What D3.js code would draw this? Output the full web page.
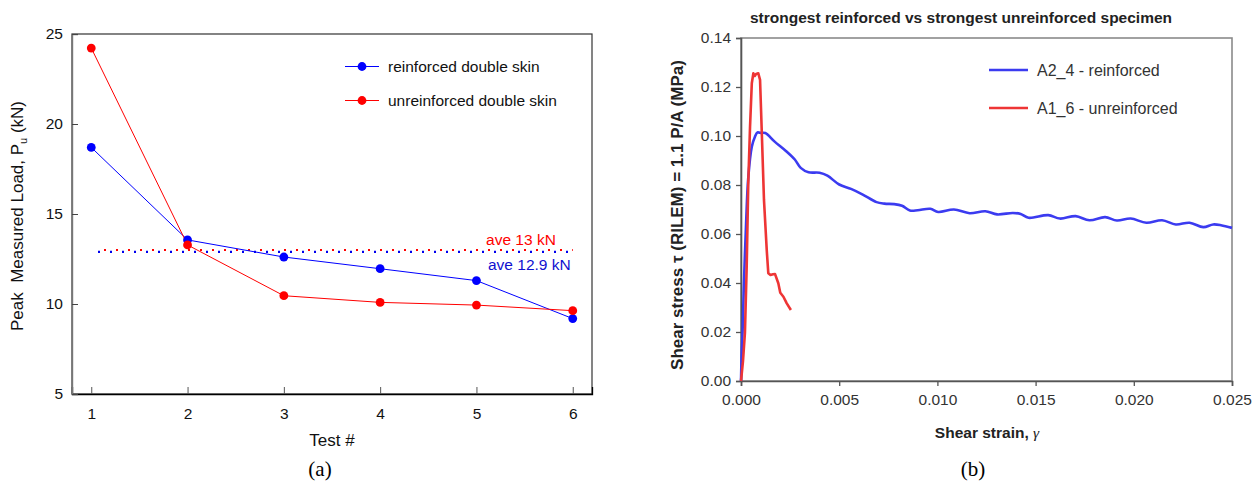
<!DOCTYPE html>
<html>
<head>
<meta charset="utf-8">
<script src="https://cdn.jsdelivr.net/npm/d3@7"></script>
<style>
  html, body { margin: 0; padding: 0; background: #fff; }
  svg { display: block; font-family: "Liberation Sans", Arial, sans-serif; }
</style>
</head>
<body>
<svg id="chart" width="1258" height="482"></svg>
<script>
// ---------- Panel (a) data ----------
const tests = [1, 2, 3, 4, 5, 6];
const reinforcedPeak = [18.7, 13.56, 12.61, 11.96, 11.3, 9.19];
const unreinforcedPeak = [24.22, 13.28, 10.46, 10.09, 9.94, 9.63];
const aveReinforced = 12.9;
const aveUnreinforced = 13.0;
const aveSpan = [1.07, 6.0];
const panelAXTicks = [1, 2, 3, 4, 5, 6];
const panelAYTicks = [5, 10, 15, 20, 25];
const panelASeriesNames = ["reinforced double skin", "unreinforced double skin"];
const aveLabels = ["ave 13 kN", "ave 12.9 kN"];

// ---------- Panel (b) data ----------
const curveA2_4 = [
  [0, 0], [0.00003, 0.01], [0.00008, 0.02], [0.00015, 0.04], [0.00026, 0.0645],
  [0.00037, 0.083], [0.00055, 0.0956], [0.00071, 0.0997], [0.00084, 0.1015],
  [0.00097, 0.1013], [0.00124, 0.1012], [0.0017, 0.0978], [0.0023, 0.0938],
  [0.00274, 0.0904], [0.00304, 0.087], [0.00344, 0.0852], [0.004, 0.085],
  [0.0044, 0.0838], [0.005, 0.0802], [0.0056, 0.0784], [0.0062, 0.0761],
  [0.0069, 0.073], [0.0073, 0.0724], [0.0078, 0.0722], [0.0082, 0.0715],
  [0.0086, 0.0696], [0.009, 0.0697], [0.00964, 0.0703], [0.01004, 0.069],
  [0.01084, 0.07], [0.01164, 0.0685], [0.01244, 0.0693], [0.01304, 0.068],
  [0.01384, 0.0686], [0.01424, 0.0682], [0.01464, 0.0666], [0.01564, 0.0677],
  [0.01624, 0.0663], [0.01704, 0.0673], [0.01774, 0.0656], [0.01854, 0.0669],
  [0.01914, 0.0655], [0.01984, 0.0663], [0.02064, 0.0646], [0.02144, 0.0656],
  [0.02214, 0.0639], [0.02284, 0.0646], [0.02354, 0.0628], [0.02404, 0.0639],
  [0.02444, 0.0636], [0.025, 0.0625]
];
const curveA1_6 = [
  [0, 0], [0.0001, 0.008], [0.0002, 0.0196], [0.00029, 0.0467], [0.00037, 0.0807],
  [0.00046, 0.1038], [0.00055, 0.1215], [0.00063, 0.1256], [0.0007, 0.1245],
  [0.00077, 0.1253], [0.00088, 0.1256], [0.00097, 0.1229], [0.00106, 0.1011],
  [0.00117, 0.0739], [0.00131, 0.0535], [0.00139, 0.044], [0.0015, 0.0433],
  [0.00163, 0.0436], [0.00173, 0.0437], [0.0019, 0.0399], [0.002, 0.036],
  [0.00216, 0.0344], [0.00233, 0.0317], [0.00254, 0.029]
];
const panelBXTicks = [0, 0.005, 0.010, 0.015, 0.020, 0.025];
const panelBYTicks = [0, 0.02, 0.04, 0.06, 0.08, 0.10, 0.12, 0.14];
const panelBSeriesNames = ["A2_4 - reinforced", "A1_6 - unreinforced"];
const panelBTitle = "strongest reinforced vs strongest unreinforced specimen";

const svg = d3.select("#chart");

// =============== Panel (a) ===============
const ax = d3.scaleLinear().domain([0.8, 6.2]).range([72, 592]);
const ay = d3.scaleLinear().domain([5, 25]).range([394, 34]);
const gA = svg.append("g");

gA.append("rect").attr("x", ax.range()[0]).attr("y", ay.range()[1])
  .attr("width", ax.range()[1] - ax.range()[0]).attr("height", ay.range()[0] - ay.range()[1])
  .attr("fill", "none").attr("stroke", "#333").attr("stroke-width", 1.2);

const axB = gA.append("g").attr("transform", `translate(0,${ay(5)})`)
  .call(d3.axisBottom(ax).tickValues(panelAXTicks).tickSize(-7).tickPadding(14).tickFormat(d3.format("d")));
axB.select(".domain").attr("stroke", "#000").attr("stroke-width", 1.3);
axB.selectAll(".tick line").attr("stroke", "#555");
axB.selectAll("text").attr("font-size", 15.5).attr("fill", "#111").attr("font-family", "Liberation Sans, Arial, sans-serif");

const axL = gA.append("g").attr("transform", `translate(${ax(0.8)},0)`)
  .call(d3.axisLeft(ay).tickValues(panelAYTicks).tickSize(-6).tickPadding(9).tickFormat(d3.format("d")));
axL.select(".domain").attr("stroke", "#777").attr("stroke-width", 1.4);
axL.selectAll(".tick line").attr("stroke", "#444");
axL.selectAll("text").attr("font-size", 15.5).attr("fill", "#111").attr("font-family", "Liberation Sans, Arial, sans-serif");

gA.append("line").attr("x1", ax(aveSpan[0])).attr("x2", ax(aveSpan[1]))
  .attr("y1", ay(aveReinforced)).attr("y2", ay(aveReinforced))
  .attr("stroke", "#0000ee").attr("stroke-width", 2.2).attr("stroke-dasharray", "2,10");
gA.append("line").attr("x1", ax(aveSpan[0])).attr("x2", ax(aveSpan[1]))
  .attr("y1", ay(aveUnreinforced)).attr("y2", ay(aveUnreinforced))
  .attr("stroke", "#ff0000").attr("stroke-width", 2.2).attr("stroke-dasharray", "2,10")
  .attr("stroke-dashoffset", -6);

gA.append("text").attr("x", ax(5.1)).attr("y", ay(aveUnreinforced) - 5)
  .attr("font-size", 15.5).attr("fill", "#ff0000").text(aveLabels[0]);
gA.append("text").attr("x", ax(5.12)).attr("y", ay(aveReinforced) + 18)
  .attr("font-size", 15.5).attr("fill", "#1010d0").text(aveLabels[1]);

const lineA = d3.line().x((d, i) => ax(tests[i])).y(d => ay(d));
const seriesA = [
  { name: panelASeriesNames[0], vals: reinforcedPeak, color: "#0000ff" },
  { name: panelASeriesNames[1], vals: unreinforcedPeak, color: "#ff0000" }
];
seriesA.forEach(s => {
  gA.append("path").attr("d", lineA(s.vals)).attr("fill", "none")
    .attr("stroke", s.color).attr("stroke-width", 1);
});
seriesA.forEach(s => {
  gA.selectAll(null).data(s.vals).enter().append("circle")
    .attr("cx", (d, i) => ax(tests[i])).attr("cy", d => ay(d)).attr("r", 4.4)
    .attr("fill", s.color);
});

seriesA.forEach((s, i) => {
  const ly = 66.5 + i * 34;
  gA.append("line").attr("x1", 345).attr("x2", 379).attr("y1", ly).attr("y2", ly)
    .attr("stroke", s.color).attr("stroke-width", 1);
  gA.append("circle").attr("cx", 362).attr("cy", ly).attr("r", 4.4).attr("fill", s.color);
  gA.append("text").attr("x", 388).attr("y", ly + 5.5).attr("font-size", 15.5)
    .attr("fill", "#111").text(s.name);
});

const yTitleA = gA.append("text").attr("transform", "translate(23,216) rotate(-90)")
  .attr("text-anchor", "middle").attr("font-size", 17).attr("fill", "#111");
yTitleA.append("tspan").text("Peak\u00a0 Measured Load, P");
yTitleA.append("tspan").attr("font-size", 11).attr("dy", 4).text("u");
yTitleA.append("tspan").attr("dy", -4).text(" (kN)");

gA.append("text").attr("x", 332).attr("y", 446).attr("text-anchor", "middle")
  .attr("font-size", 17).attr("fill", "#111").text("Test #");
gA.append("text").attr("x", 320).attr("y", 476).attr("text-anchor", "middle")
  .attr("font-size", 21).attr("font-family", "Liberation Serif, Times New Roman, serif")
  .attr("fill", "#000").text("(a)");

// =============== Panel (b) ===============
const bx = d3.scaleLinear().domain([0, 0.025]).range([741, 1232]);
const by = d3.scaleLinear().domain([0, 0.14]).range([381, 38]);
const gB = svg.append("g");

gB.append("rect").attr("x", bx.range()[0]).attr("y", by.range()[1])
  .attr("width", bx.range()[1] - bx.range()[0]).attr("height", by.range()[0] - by.range()[1])
  .attr("fill", "none").attr("stroke", "#8a8a8a").attr("stroke-width", 1.6);

const bxAxis = gB.append("g").attr("transform", `translate(0,${by(0)})`)
  .call(d3.axisBottom(bx).tickValues(panelBXTicks).tickSize(5).tickPadding(8).tickFormat(d3.format(".3f")));
bxAxis.select(".domain").attr("stroke", "#555").attr("stroke-width", 1.6);
bxAxis.selectAll(".tick line").attr("stroke", "#555").attr("stroke-width", 1.3);
bxAxis.selectAll("text").attr("font-size", 15.5).attr("fill", "#333").attr("font-family", "Liberation Sans, Arial, sans-serif");

const byAxis = gB.append("g").attr("transform", `translate(${bx(0)},0)`)
  .call(d3.axisLeft(by).tickValues(panelBYTicks).tickSize(5).tickPadding(5).tickFormat(d3.format(".2f")));
byAxis.select(".domain").attr("stroke", "#555").attr("stroke-width", 1.6);
byAxis.selectAll(".tick line").attr("stroke", "#555").attr("stroke-width", 1.3);
byAxis.selectAll("text").attr("font-size", 15.5).attr("fill", "#333").attr("font-family", "Liberation Sans, Arial, sans-serif");

const lineB = d3.line().x(d => bx(d[0])).y(d => by(d[1]));
gB.append("path").attr("d", lineB.curve(d3.curveCatmullRom)(curveA2_4)).attr("fill", "none")
  .attr("stroke", "#3b3bf0").attr("stroke-width", 2.6).attr("stroke-linejoin", "round");
gB.append("path").attr("d", lineB.curve(d3.curveLinear)(curveA1_6)).attr("fill", "none")
  .attr("stroke", "#ee3535").attr("stroke-width", 2.6).attr("stroke-linejoin", "round");

const legB = [{ name: panelBSeriesNames[0], color: "#3b3bf0" }, { name: panelBSeriesNames[1], color: "#ee3535" }];
legB.forEach((s, i) => {
  const ly = 70 + i * 38;
  gB.append("line").attr("x1", 989).attr("x2", 1028).attr("y1", ly).attr("y2", ly)
    .attr("stroke", s.color).attr("stroke-width", 2.6);
  gB.append("text").attr("x", 1037).attr("y", ly + 5.5).attr("font-size", 16)
    .attr("fill", "#333").text(s.name);
});

gB.append("text").attr("x", 961).attr("y", 23).attr("text-anchor", "middle")
  .attr("font-size", 15.5).attr("font-weight", "bold").attr("fill", "#222").text(panelBTitle);
gB.append("text").attr("transform", "translate(683,215) rotate(-90)")
  .attr("text-anchor", "middle").attr("font-size", 17).attr("font-weight", "bold")
  .attr("fill", "#222").text("Shear stress \u03c4 (RILEM) = 1.1 P/A (MPa)");
const xTitleB = gB.append("text").attr("x", 987).attr("y", 438).attr("text-anchor", "middle")
  .attr("font-size", 15.5).attr("font-weight", "bold").attr("fill", "#222");
xTitleB.append("tspan").text("Shear strain, ");
xTitleB.append("tspan").attr("font-style", "italic").attr("font-weight", "normal")
  .attr("font-family", "Liberation Serif, Times New Roman, serif").text("\u03b3");
gB.append("text").attr("x", 973).attr("y", 476).attr("text-anchor", "middle")
  .attr("font-size", 21).attr("font-family", "Liberation Serif, Times New Roman, serif")
  .attr("fill", "#000").text("(b)");
</script>
</body>
</html>
